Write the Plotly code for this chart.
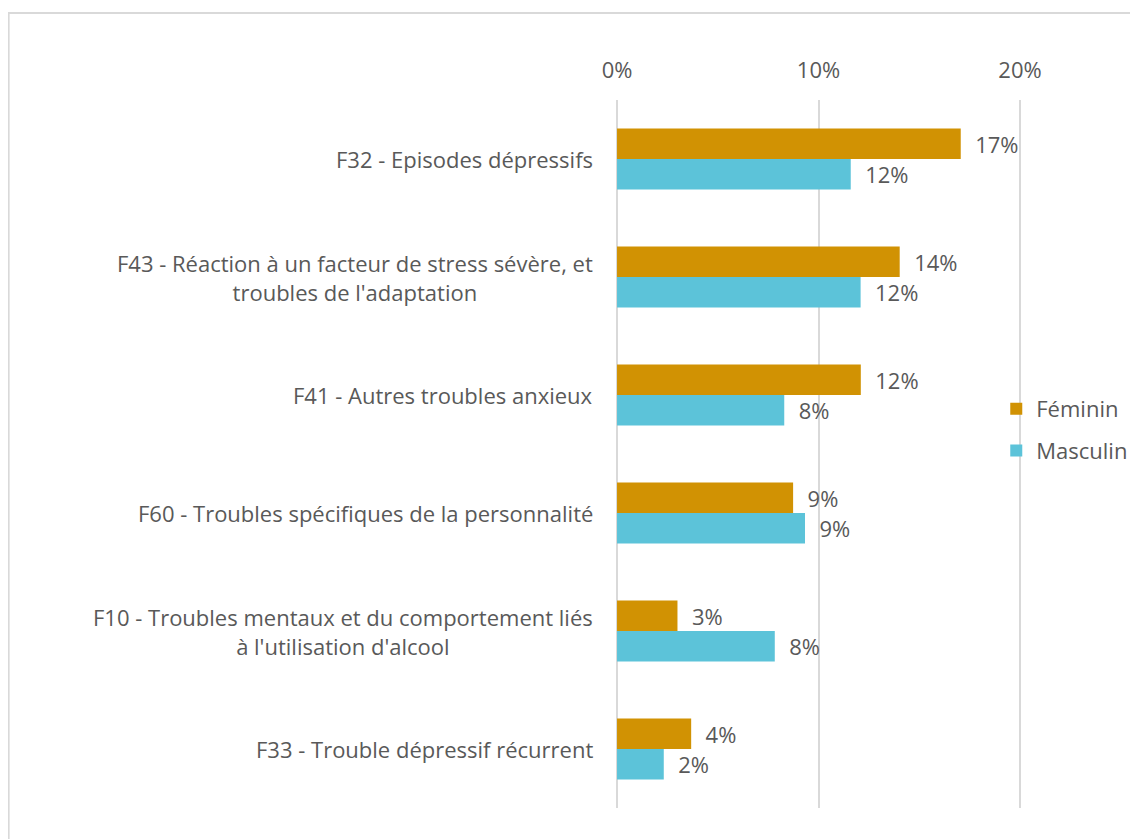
import plotly.graph_objects as go

categories = [
    "F32 - Episodes dépressifs",
    "F43 - Réaction à un facteur de stress sévère, et<br>troubles de l'adaptation",
    "F41 - Autres troubles anxieux",
    "F60 - Troubles spécifiques de la personnalité",
    "F10 - Troubles mentaux et du comportement liés<br>à l'utilisation d'alcool",
    "F33 - Trouble dépressif récurrent",
]
feminin = [0.1706, 0.1403, 0.121, 0.0874, 0.030, 0.0368]
masculin = [0.116, 0.1209, 0.083, 0.0933, 0.0783, 0.0232]
tick_vals = [0, 0.1, 0.2]
tick_text = ["0%", "10%", "20%"]

FONT = "Open Sans"
FS = 22
GREY = "#595959"
PAD = "\u00a0\u00a0"

# geometry (figure is offset 8px by the page body margin)
PW = 402.7          # pixels for 0..20%
EXT = 0.0015        # small range extension so edge gridlines are drawn
ppu = PW / 0.2
ext_px = EXT * ppu
L = 609 - ext_px
T = 92
W, H = 1130, 831
plot_w = PW + 2 * ext_px
R = W - L - plot_w


def px_to_paper_x(px):
    return (px - 8 - L) / plot_w


def py_to_paper_y(py):
    return (808 - py) / 708


fig = go.Figure()
for name, vals, color, grp in [
    ("Féminin", feminin, "#D19203", "f"),
    ("Masculin", masculin, "#5CC3D9", "m"),
]:
    fig.add_trace(go.Bar(
        name=name,
        y=categories,
        x=vals,
        orientation="h",
        marker=dict(color=color, line=dict(width=0)),
        text=[PAD + f"{v:.0%}" for v in vals],
        textposition="outside",
        textfont=dict(family=FONT, size=FS, color=GREY),
        cliponaxis=False,
        constraintext="none",
        legendgroup=grp,
    ))

for c in categories:
    fig.add_annotation(
        x=px_to_paper_x(595), xref="paper", y=c, yref="y",
        text=c, showarrow=False, xanchor="right", align="center",
        font=dict(family=FONT, size=FS, color=GREY),
    )

fig.add_shape(
    type="rect", xref="paper", yref="paper",
    x0=px_to_paper_x(9), x1=px_to_paper_x(1160),
    y0=py_to_paper_y(860), y1=py_to_paper_y(13),
    line=dict(color="#D9D9D9", width=2), fillcolor="rgba(0,0,0,0)",
    layer="below",
)

fig.update_layout(
    width=W, height=H,
    margin=dict(l=L, r=R, t=T, b=31, autoexpand=False),
    paper_bgcolor="white", plot_bgcolor="white",
    barmode="group", bargap=0.483, bargroupgap=0,
    font=dict(family=FONT, size=FS, color=GREY),
    showlegend=True,
    legend=dict(
        x=px_to_paper_x(996), y=py_to_paper_y(430), xanchor="left", yanchor="middle",
        font=dict(family=FONT, size=FS, color=GREY),
        tracegroupgap=10, bgcolor="rgba(0,0,0,0)",
    ),
    xaxis=dict(
        side="top", range=[-EXT, 0.2 + EXT], tickvals=tick_vals, ticktext=tick_text,
        showgrid=True, gridcolor="#D9D9D9", gridwidth=1.5,
        zeroline=False, showline=False, ticks="",
        ticklabelstandoff=17,
        tickfont=dict(family=FONT, size=FS, color=GREY),
    ),
    yaxis=dict(
        autorange="reversed", showticklabels=False, showgrid=False,
        zeroline=False, showline=False, ticks="",
    ),
)

fig.write_html("out.html")
